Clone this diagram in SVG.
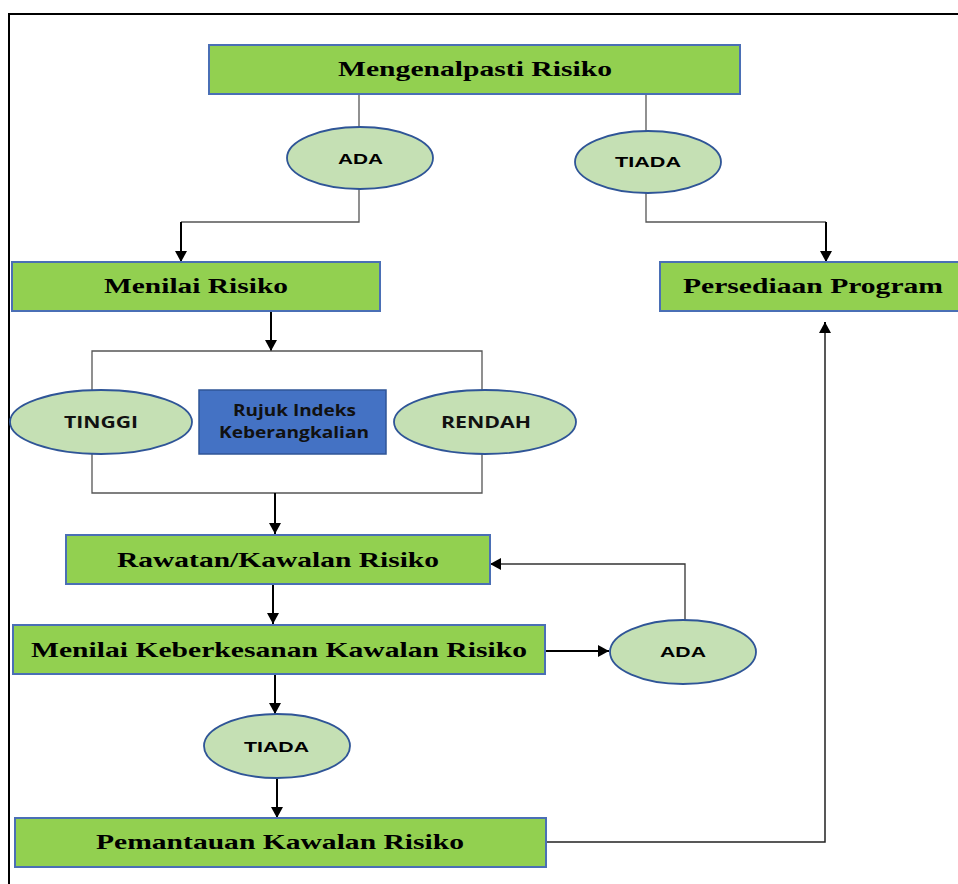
<svg xmlns="http://www.w3.org/2000/svg" width="958" height="884" viewBox="0 0 958 884">
<style>
.box{fill:#92D050;stroke:#4A6FB5;stroke-width:2}
.ell{fill:#C5E0B4;stroke:#2F5597;stroke-width:1.8}
.blue{fill:#4472C4;stroke:#2F5597;stroke-width:1.5}
.t{font-family:"Liberation Serif","Times New Roman",serif;font-weight:bold;font-size:21px;fill:#000;text-anchor:start}
.s{font-family:"Liberation Sans",Arial,sans-serif;font-weight:bold;font-size:15px;fill:#000;text-anchor:start}
.c{font-family:"Open Sans","Noto Sans",sans-serif;font-weight:bold;font-size:16px;fill:#111;text-anchor:start}
.thin{fill:none;stroke:#555;stroke-width:1.3}
.arr{fill:none;stroke:#000;stroke-width:2;marker-end:url(#ah)}
.frame{fill:none;stroke:#000;stroke-width:2}
</style>
<defs>
<marker id="ah" markerUnits="userSpaceOnUse" markerWidth="12" markerHeight="12" refX="11" refY="6" orient="auto">
<path d="M0,0 L11,6 L0,12 z" fill="#000"/>
</marker>
</defs>
<rect width="958" height="884" fill="#fff"/>
<path class="frame" d="M9,884 V14 H958"/>

<g id="connectors">
<path class="thin" d="M359,94 V127"/>
<path class="thin" d="M359,189 V222 H181"/>
<path class="arr" d="M181,222 V262"/>
<path class="thin" d="M646,94 V131"/>
<path class="thin" d="M646,193 V222 H826"/>
<path class="arr" d="M826,222 V262"/>
<path class="arr" d="M271,311 V351"/>
<path class="thin" d="M92,391 V351 H482 V391"/>
<path class="thin" d="M92,454 V493 H482 V454"/>
<path class="arr" d="M275,493 V534"/>
<path class="arr" d="M273,584 V624"/>
<path class="arr" d="M545,651 H609"/>
<path class="thin" style="stroke:#333" d="M685,620 V564 H500"/>
<path class="arr" style="stroke-width:1.5" d="M500,564 H490"/>
<path class="arr" d="M275,674 V714"/>
<path class="arr" d="M277,779 V818"/>
<path class="thin" style="stroke:#222;stroke-width:1.5" d="M546,842 H825 V330"/>
<path class="arr" d="M825,330 V322"/>
</g>

<g id="mengenalpasti">
<rect class="box" x="209" y="45" width="531" height="49"/>
<text class="t" x="338" y="76" textLength="274" lengthAdjust="spacingAndGlyphs">Mengenalpasti Risiko</text>
</g>
<g id="ada1">
<ellipse class="ell" cx="360" cy="158" rx="73" ry="31"/>
<text class="s" x="338" y="164" textLength="45" lengthAdjust="spacingAndGlyphs">ADA</text>
</g>
<g id="tiada1">
<ellipse class="ell" cx="648" cy="162" rx="73" ry="31"/>
<text class="s" x="615" y="167" textLength="66" lengthAdjust="spacingAndGlyphs">TIADA</text>
</g>
<g id="menilai">
<rect class="box" x="12" y="262" width="368" height="49"/>
<text class="t" x="104" y="293" textLength="184" lengthAdjust="spacingAndGlyphs">Menilai Risiko</text>
</g>
<g id="persediaan">
<rect class="box" x="660" y="262" width="310" height="49"/>
<text class="t" x="683" y="293" textLength="260" lengthAdjust="spacingAndGlyphs">Persediaan Program</text>
</g>
<g id="tinggi">
<ellipse class="ell" cx="101" cy="422" rx="91" ry="32"/>
<text class="c" x="64" y="428" textLength="74" lengthAdjust="spacingAndGlyphs">TINGGI</text>
</g>
<g id="rujuk">
<rect class="blue" x="199" y="390" width="187" height="64"/>
<text class="c" x="233" y="416" font-size="14" textLength="123" lengthAdjust="spacingAndGlyphs">Rujuk Indeks</text>
<text class="c" x="219" y="438" font-size="14" textLength="150" lengthAdjust="spacingAndGlyphs">Keberangkalian</text>
</g>
<g id="rendah">
<ellipse class="ell" cx="485" cy="422" rx="91" ry="32"/>
<text class="c" x="441" y="428" textLength="90" lengthAdjust="spacingAndGlyphs">RENDAH</text>
</g>
<g id="rawatan">
<rect class="box" x="66" y="535" width="424" height="49"/>
<text class="t" x="117" y="567" textLength="322" lengthAdjust="spacingAndGlyphs">Rawatan/Kawalan Risiko</text>
</g>
<g id="keberkesanan">
<rect class="box" x="13" y="625" width="532" height="49"/>
<text class="t" x="31" y="657" textLength="496" lengthAdjust="spacingAndGlyphs">Menilai Keberkesanan Kawalan Risiko</text>
</g>
<g id="ada2">
<ellipse class="ell" cx="683" cy="652" rx="73" ry="32"/>
<text class="s" x="660" y="657" textLength="46" lengthAdjust="spacingAndGlyphs">ADA</text>
</g>
<g id="tiada2">
<ellipse class="ell" cx="277" cy="746" rx="73" ry="32"/>
<text class="s" x="244" y="752" textLength="65" lengthAdjust="spacingAndGlyphs">TIADA</text>
</g>
<g id="pemantauan">
<rect class="box" x="15" y="818" width="531" height="49"/>
<text class="t" x="96" y="849" textLength="368" lengthAdjust="spacingAndGlyphs">Pemantauan Kawalan Risiko</text>
</g>
</svg>
